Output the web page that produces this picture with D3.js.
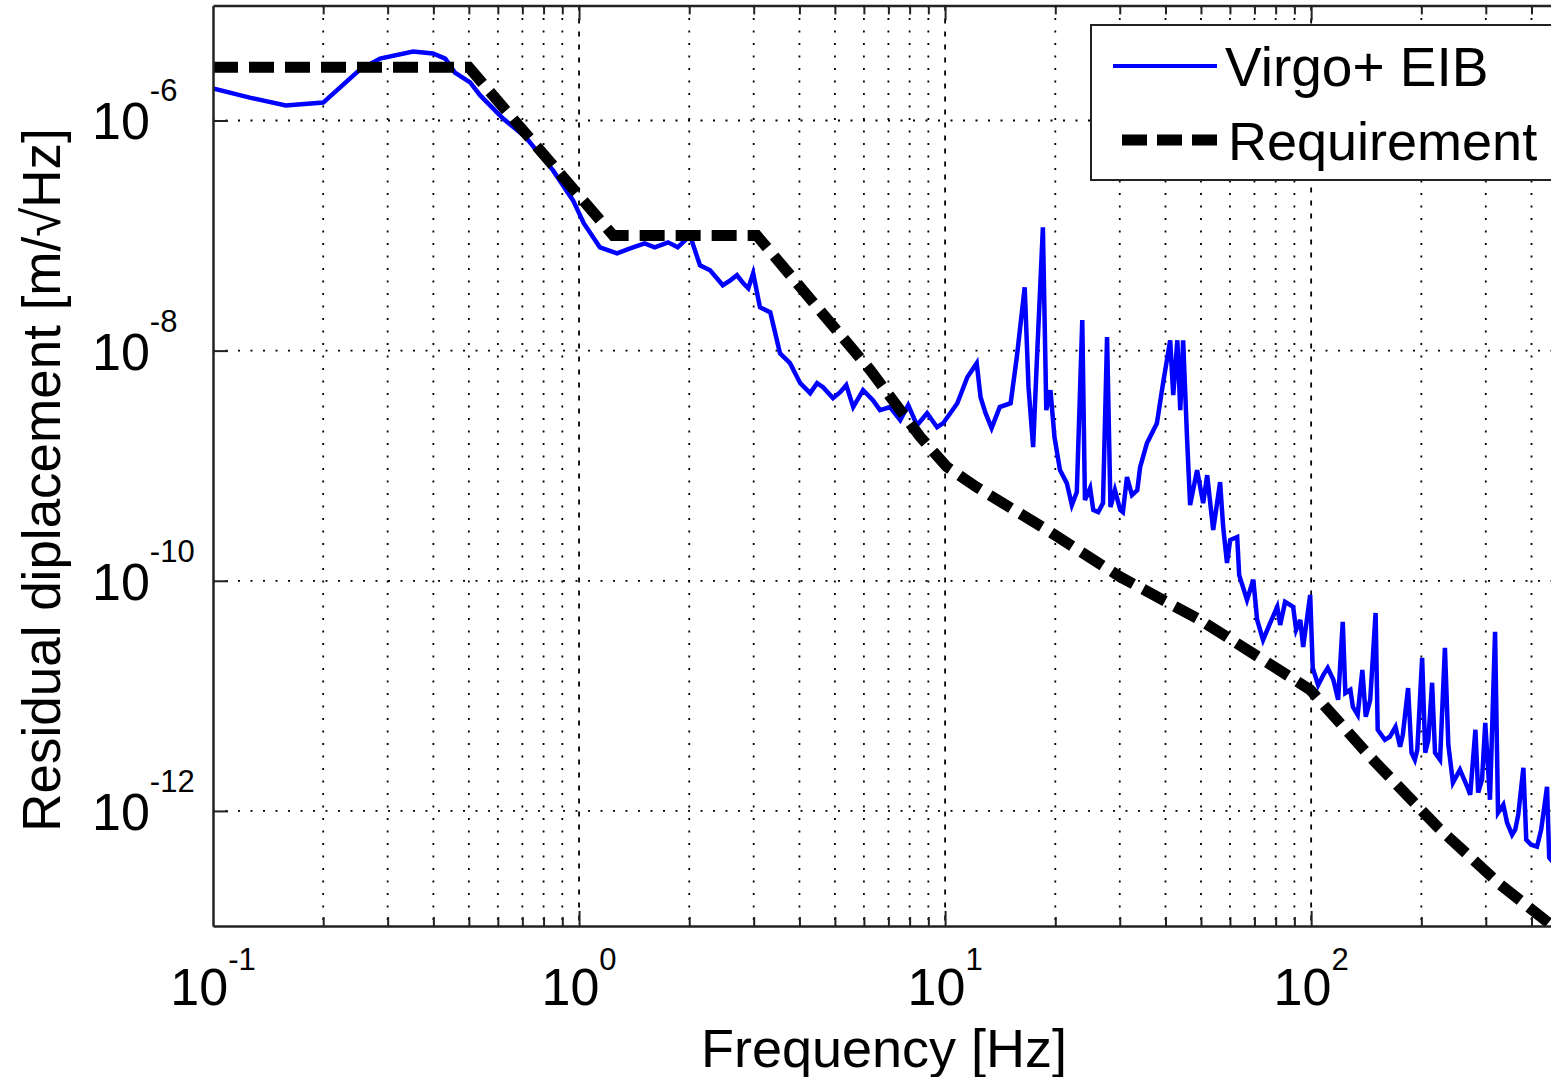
<!DOCTYPE html>
<meta charset="utf-8">
<head>
  <script src="https://d3js.org/d3.v7.min.js"></script>
  <style>
    body { margin: 0; background: #fff; overflow: hidden; }
    text { font-family: "Liberation Sans", Arial, sans-serif; fill: #000; }
  </style>
</head>
<body>
<div id="chart"></div>
<script>
  // Virgo+ EIB residual displacement
  var freqEIB = [0.100, 0.126, 0.158, 0.200, 0.252, 0.286, 0.352, 0.399, 0.431, 0.458,
    0.504, 0.537, 0.620, 0.716, 0.849, 0.963, 1.03, 1.14, 1.27, 1.38,
    1.51, 1.61, 1.75, 1.86, 2.01, 2.14, 2.28, 2.38, 2.47, 2.59,
    2.70, 2.81, 2.90, 2.99, 3.12, 3.33, 3.54, 3.77, 4.02, 4.28,
    4.47, 4.64, 4.94, 5.17, 5.37, 5.61, 5.97, 6.35, 6.64, 7.07,
    7.54, 7.93, 8.38, 8.93, 9.51, 9.88, 10.8, 11.5, 12.2, 12.5,
    12.9, 13.4, 14.1, 15.1, 15.7, 16.5, 16.9, 17.4, 17.8, 18.5,
    18.9, 19.4, 19.9, 20.6, 21.5, 22.2, 22.9, 23.7, 24.1, 24.9,
    25.4, 26.2, 27.0, 27.7, 28.3, 29.1, 30.1, 30.6, 31.4, 32.4,
    33.5, 34.1, 35.6, 37.9, 39.4, 41.2, 42.0, 43.1, 43.9, 44.7,
    45.8, 46.7, 48.8, 50.7, 52.0, 54.0, 56.4, 57.5, 58.9, 60.1,
    62.8, 63.6, 66.8, 69.5, 71.2, 73.9, 77.3, 80.8, 82.3, 84.9,
    89.3, 91.0, 93.4, 95.1, 99.4, 101, 104.5, 108, 111, 115,
    118.5, 122, 124, 128, 130, 134, 138, 141, 145, 150,
    152, 159, 164, 170, 175, 178, 184, 188, 192, 195,
    201, 205, 209, 214, 218, 225, 232, 237, 244, 255,
    267, 272, 281, 286, 293, 299, 308, 318, 324, 335,
    343, 354, 361, 368, 380, 387, 399, 414, 425, 441,
    447, 464];
  var dispEIB = [1.90e-6, 1.58e-6, 1.35e-6, 1.43e-6, 2.77e-6, 3.45e-6, 3.97e-6, 3.82e-6, 3.45e-6, 2.61e-6,
    2.14e-6, 1.65e-6, 1.04e-6, 7.11e-7, 3.68e-7, 2.02e-7, 1.28e-7, 7.91e-8, 7.00e-8, 7.74e-8,
    8.55e-8, 7.91e-8, 8.73e-8, 7.91e-8, 1.00e-7, 5.51e-8, 4.99e-8, 4.25e-8, 3.70e-8, 4.08e-8,
    4.52e-8, 3.85e-8, 3.48e-8, 4.70e-8, 2.38e-8, 2.15e-8, 9.48e-9, 7.78e-9, 5.21e-9, 4.27e-9,
    5.21e-9, 4.81e-9, 3.87e-9, 4.35e-9, 5.01e-9, 3.23e-9, 4.53e-9, 3.71e-9, 3.04e-9, 3.23e-9,
    2.49e-9, 3.36e-9, 2.25e-9, 2.86e-9, 2.16e-9, 2.34e-9, 3.49e-9, 5.87e-9, 7.78e-9, 3.94e-9,
    2.86e-9, 2.12e-9, 3.23e-9, 3.49e-9, 8.77e-9, 3.55e-8, 4.81e-9, 1.45e-9, 7.78e-9, 1.18e-7,
    3.04e-9, 4.53e-9, 1.77e-9, 9.16e-10, 7.06e-10, 4.55e-10, 5.90e-10, 1.84e-8, 5.03e-10, 6.40e-10,
    4.12e-10, 3.95e-10, 4.73e-10, 1.31e-8, 4.37e-10, 6.14e-10, 4.12e-10, 3.95e-10, 7.96e-10, 5.56e-10,
    6.14e-10, 9.72e-10, 1.57e-9, 2.34e-9, 5.21e-9, 1.23e-8, 4.10e-9, 1.23e-8, 3.04e-9, 1.23e-8,
    1.77e-9, 4.55e-10, 9.16e-10, 4.73e-10, 8.28e-10, 2.76e-10, 7.21e-10, 2.93e-10, 1.43e-10, 2.26e-10,
    2.40e-10, 1.12e-10, 6.81e-11, 1.02e-10, 4.57e-11, 3.06e-11, 4.30e-11, 5.93e-11, 4.13e-11, 6.55e-11,
    5.93e-11, 3.74e-11, 4.57e-11, 2.66e-11, 7.53e-11, 1.75e-11, 1.24e-11, 1.52e-11, 1.75e-11, 1.38e-11,
    9.23e-12, 4.39e-11, 1.06e-11, 1.13e-11, 8.03e-12, 6.84e-12, 1.68e-11, 6.58e-12, 9.23e-12, 5.25e-11,
    5.07e-12, 4.15e-12, 4.41e-12, 5.38e-12, 3.61e-12, 4.58e-12, 1.17e-11, 3.20e-12, 2.78e-12, 3.40e-12,
    2.14e-11, 3.20e-12, 4.15e-12, 1.30e-11, 3.20e-12, 2.78e-12, 2.61e-11, 3.76e-12, 1.76e-12, 2.28e-12,
    1.62e-12, 1.38e-12, 5.07e-12, 1.44e-12, 1.87e-12, 5.83e-12, 1.25e-12, 3.60e-11, 9.64e-13, 1.13e-12,
    7.90e-13, 6.21e-13, 6.87e-13, 9.27e-13, 2.37e-12, 5.62e-13, 5.09e-13, 4.89e-13, 6.87e-13, 1.62e-12,
    3.93e-13, 3.41e-13];

  // Requirement curve
  var freqReq = [0.1, 0.5, 1.24, 3.06, 6.24, 8.55, 10.1, 12.2, 19.0, 30.1, 49.7, 99.4, 145, 221, 328, 453, 500];
  var dispReq = [2.9e-6, 2.9e-6, 1.0e-7, 1.0e-7, 6.8e-9, 1.78e-9, 9.8e-10, 6.5e-10, 2.76e-10, 1.08e-10,
    4.57e-11, 1.13e-11, 2.95e-12, 7.3e-13, 2.3e-13, 1.02e-13, 8e-14];

  var xTickExp = [-1, 0, 1, 2];
  var yTickExp = [-6, -8, -10, -12];
  var seriesNames = ["Virgo+ EIB", "Requirement"];

  var width = 1551, height = 1077;
  var plotLeft = 213, plotRight = 1567, plotTop = 5.4, plotBottom = 926;

  var svg = d3.select("#chart").append("svg")
      .attr("width", width)
      .attr("height", height);

  var x = d3.scaleLog().domain([0.1, 500]).range([plotLeft, plotRight]);
  var y = d3.scaleLog().domain([1e-13, 1e-5]).range([plotBottom, plotTop]);

  // all x grid positions (1..9 per decade)
  var xAll = x.ticks().filter(function(d) { return d > 0.1 && d <= 500; });
  function isMajor(d) { return Math.abs(Math.log10(d) - Math.round(Math.log10(d))) < 1e-6; }
  var yMajor = yTickExp.map(function(e) { return Math.pow(10, e); });

  // grid
  var grid = svg.append("g");
  grid.selectAll("line.v").data(xAll).enter().append("line")
      .attr("x1", function(d) { return x(d); }).attr("x2", function(d) { return x(d); })
      .attr("y1", plotTop).attr("y2", plotBottom)
      .attr("stroke", "#000").attr("stroke-width", 1.8)
      .attr("stroke-dasharray", function(d) { return isMajor(d) ? "5,8" : "2,10.5"; });
  grid.selectAll("line.h").data(yMajor).enter().append("line")
      .attr("x1", plotLeft).attr("x2", plotRight)
      .attr("y1", function(d) { return y(d); }).attr("y2", function(d) { return y(d); })
      .attr("stroke", "#000").attr("stroke-width", 1.8)
      .attr("stroke-dasharray", "2,10.5");

  // data
  svg.append("clipPath").attr("id", "clip").append("rect")
      .attr("x", plotLeft).attr("y", plotTop)
      .attr("width", plotRight - plotLeft).attr("height", plotBottom - plotTop);

  var line = d3.line()
      .x(function(d) { return x(d[0]); })
      .y(function(d) { return y(d[1]); });

  svg.append("path")
      .datum(d3.zip(freqEIB, dispEIB))
      .attr("clip-path", "url(#clip)")
      .attr("fill", "none").attr("stroke", "#0000ff").attr("stroke-width", 4.5)
      .attr("stroke-linejoin", "miter")
      .attr("d", line);

  svg.append("path")
      .datum(d3.zip(freqReq, dispReq))
      .attr("clip-path", "url(#clip)")
      .attr("fill", "none").attr("stroke", "#000").attr("stroke-width", 11)
      .attr("stroke-dasharray", "25,11")
      .attr("d", line);

  // axes (ticks inside, labels drawn separately)
  function styleAxis(g) {
    g.select(".domain").attr("stroke", "#222").attr("stroke-width", 2.5);
    g.selectAll(".tick line").attr("stroke", "#222").attr("stroke-width", 2);
    g.selectAll(".tick text").remove();
  }
  var xb = svg.append("g").attr("transform", "translate(0," + plotBottom + ")")
      .call(d3.axisBottom(x).tickValues(xAll).tickSize(-9).tickSizeOuter(0).tickFormat(""));
  xb.selectAll(".tick line").filter(isMajor).attr("y2", -15);
  styleAxis(xb);

  var xt = svg.append("g").attr("transform", "translate(0," + plotTop + ")")
      .call(d3.axisTop(x).tickValues(xAll).tickSize(-9).tickSizeOuter(0).tickFormat(""));
  xt.selectAll(".tick line").filter(isMajor).attr("y2", 15);
  styleAxis(xt);

  var yl = svg.append("g").attr("transform", "translate(" + plotLeft + ",0)")
      .call(d3.axisLeft(y).tickValues(yMajor).tickSize(-15).tickSizeOuter(0).tickFormat(""));
  styleAxis(yl);

  // tick labels 10^n
  xTickExp.forEach(function(e) {
    var t = svg.append("text")
        .attr("x", x(Math.pow(10, e)))
        .attr("y", 1005)
        .attr("text-anchor", "middle")
        .attr("font-size", 52);
    t.append("tspan").text("10");
    t.append("tspan").attr("dy", -35).attr("font-size", 31).text(e);
  });
  yTickExp.forEach(function(e) {
    var t = svg.append("text")
        .attr("x", 92)
        .attr("y", y(Math.pow(10, e)) + 19)
        .attr("font-size", 52);
    t.append("tspan").text("10");
    t.append("tspan").attr("dy", -38).attr("font-size", 31).text(e);
  });

  // axis titles
  svg.append("text")
      .attr("x", 884).attr("y", 1067)
      .attr("text-anchor", "middle").attr("font-size", 54)
      .text("Frequency [Hz]");
  svg.append("text")
      .attr("transform", "translate(60,480) rotate(-90)")
      .attr("text-anchor", "middle").attr("font-size", 53)
      .text("Residual diplacement [m/\u221AHz]");

  // legend
  var lg = svg.append("g");
  lg.append("rect")
      .attr("x", 1091).attr("y", 25).attr("width", 520).attr("height", 155)
      .attr("fill", "#fff").attr("stroke", "#222").attr("stroke-width", 2);
  lg.append("line")
      .attr("x1", 1113).attr("x2", 1217).attr("y1", 66).attr("y2", 66)
      .attr("stroke", "#0000ff").attr("stroke-width", 4);
  lg.append("line")
      .attr("x1", 1122).attr("x2", 1217).attr("y1", 140).attr("y2", 140)
      .attr("stroke", "#000").attr("stroke-width", 11).attr("stroke-dasharray", "25,10");
  lg.append("text").attr("x", 1225).attr("y", 86).attr("font-size", 55).text(seriesNames[0]);
  lg.append("text").attr("x", 1228).attr("y", 160).attr("font-size", 54).text(seriesNames[1]);
</script>
</body>
